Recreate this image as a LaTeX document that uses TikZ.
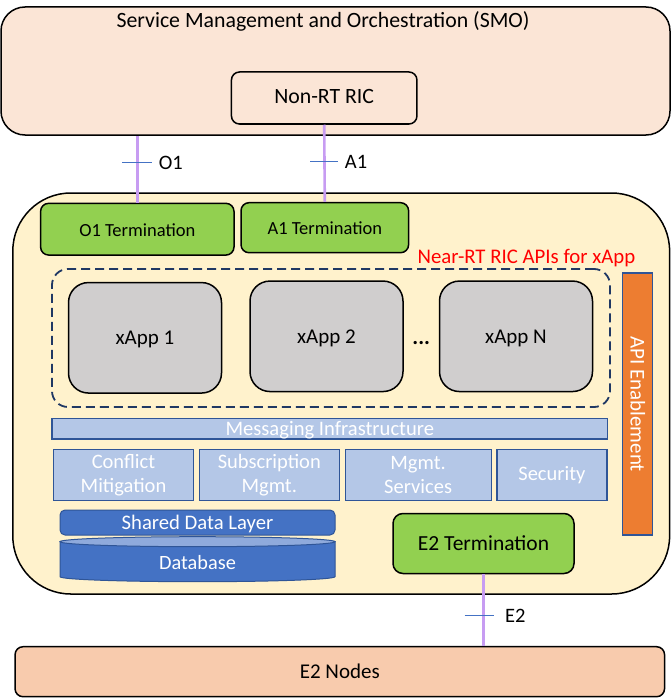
\documentclass[tikz,border=0pt]{standalone}
\usepackage{fontspec}
\setmainfont{Carlito}
\usepackage{tikz}
\usetikzlibrary{positioning, calc}
\definecolor{smobg}{HTML}{FBE5D6}
\definecolor{nodesbg}{HTML}{F8CBAD}
\definecolor{ricbg}{HTML}{FFF2CC}
\definecolor{termgreen}{HTML}{92D050}
\definecolor{xappgray}{HTML}{D0CECE}
\definecolor{groupnavy}{HTML}{1F3864}
\definecolor{apiorange}{HTML}{ED7D31}
\definecolor{edgeblue}{HTML}{2F5597}
\definecolor{svcblue}{HTML}{B4C7E7}
\definecolor{sdlblue}{HTML}{4472C4}
\definecolor{dbtop}{HTML}{8FAADC}
\definecolor{ifacepurple}{HTML}{C79CF2}
\definecolor{apired}{HTML}{FF0000}
\tikzset{
  txt/.style={
    font=\fontsize{21}{25}\selectfont,
    inner sep=0pt,
    text height=14pt,
    text depth=0pt
  },
  smo box/.style={
    draw=black, line width=1.5pt, fill=smobg,
    rounded corners=24pt, inner sep=0pt
  },
  ric box/.style={
    draw=black, line width=1.5pt, fill=ricbg,
    rounded corners=58pt, inner sep=0pt
  },
  term box/.style={
    txt, draw=black, line width=1.5pt,
    rounded corners=8pt, align=center
  },
  group box/.style={
    draw=groupnavy, line width=1.8pt, dash pattern=on 9pt off 5pt,
    rounded corners=16pt, inner sep=0pt
  },
  xapp box/.style={
    txt, draw=black, line width=1.5pt, fill=xappgray,
    rounded corners=20pt,
    minimum width=153pt, minimum height=110.5pt
  },
  api bar/.style={
    txt, draw=edgeblue, line width=1.2pt, fill=apiorange,
    text=white, rotate=-90
  },
  svc box/.style={
    draw=edgeblue, line width=1.2pt, fill=svcblue,
    text=white, align=center, inner sep=0pt,
    font=\fontsize{20.5}{24.5}\selectfont,
    minimum height=51.5pt
  },
  sdl box/.style={
    txt, draw=edgeblue, line width=1pt, fill=sdlblue,
    text=white, rounded corners=5pt
  },
  db body/.style={draw=edgeblue, line width=1pt, fill=sdlblue},
  db lid/.style={draw=edgeblue, line width=1pt, fill=dbtop},
  iface/.style={draw=ifacepurple, line width=2.6pt},
  iface tick/.style={draw=sdlblue, line width=1pt},
  iface label/.style={txt, font=\fontsize{20.5}{24.5}\selectfont}
}
\begin{document}
\begin{tikzpicture}[x=1pt, y=1pt]
  \useasboundingbox (0,0) rectangle (671,-698);

  % SMO with Non-RT RIC
  \node[smo box, minimum width=669pt, minimum height=128pt] (smo) at (335.5,-71) {};
  \node[txt, anchor=base, font=\fontsize{21.8}{26}\selectfont] (smotitle) at (323,-28) {Service Management and Orchestration (SMO)};
  \node[term box, fill=smobg, font=\fontsize{21.8}{26}\selectfont, minimum width=185.5pt, minimum height=52pt, text depth=2pt] (nonrt) at (324.2,-98) {Non-RT RIC};

  % Near-RT RIC
  \node[ric box, minimum width=656.8pt, minimum height=401pt] (nearrt) at (341.2,-393.5) {};
  \node[term box, fill=termgreen, font=\fontsize{18.5}{22}\selectfont, minimum width=193.4pt, minimum height=51.7pt] (o1term) at (137.3,-229.2) {O1 Termination};
  \node[term box, fill=termgreen, font=\fontsize{18.5}{22}\selectfont, minimum width=167.6pt, minimum height=50pt] (a1term) at (324.8,-227.7) {A1 Termination};
  \node[txt, text=apired, font=\fontsize{20.8}{25}\selectfont, anchor=east] (apilbl) at (635.4,-256) {Near-RT RIC APIs for xApp};

  \node[group box, minimum width=558pt, minimum height=138pt] (xapps) at (331,-338) {};
  \node[xapp box] (xapp1) at (145,-337.8) {xApp 1};
  \node[xapp box, right=27pt of xapp1.north east, anchor=north west, yshift=1.5pt] (xapp2) {xApp 2};
  \node[xapp box, right=35pt of xapp2] (xappn) {xApp N};
  \node[txt, font=\fontsize{22}{26}\bfseries] (dots) at ($(xapp2.east)!0.5!(xappn.west)+(0,-1)$) {...};

  \node[api bar, minimum width=262pt, minimum height=30pt] (api) at (637.5,-404) {API Enablement};

  \node[txt, draw=edgeblue, line width=1.2pt, fill=svcblue, text=white, font=\fontsize{20.6}{25}\selectfont, minimum width=555.6pt, minimum height=20.7pt] (msg) at (329.8,-428.7) {Messaging Infrastructure};

  \node[svc box, minimum width=140pt] (conflict) at (123.5,-475) {Conflict\\Mitigation};
  \node[svc box, minimum width=140pt, right=4.6pt of conflict] (subscr) {Subscription\\Mgmt.};
  \node[svc box, minimum width=146pt, right=4.6pt of subscr] (mgmt) {Mgmt.\\Services};
  \node[svc box, minimum width=110pt, right=4.6pt of mgmt] (security) {Security};

  \node[sdl box, font=\fontsize{20.7}{25}\selectfont, minimum width=275pt, minimum height=25pt] (sdl) at (197.5,-522.5) {Shared Data Layer};
  \coordinate (dbtopc) at (197.5,-541.7);
  \coordinate (dbbotc) at (197.5,-576.7);
  \filldraw[db body] ([xshift=-137.5pt]dbtopc) -- ([xshift=-137.5pt]dbbotc)
    arc[start angle=180, end angle=360, x radius=137.5, y radius=5] -- ([xshift=137.5pt]dbtopc) -- cycle;
  \filldraw[db lid] (dbtopc) ellipse[x radius=137.5, y radius=5];
  \node[txt, text=white, font=\fontsize{20.3}{25}\selectfont] (db) at (197.5,-562.5) {Database};

  \node[term box, fill=termgreen, font=\fontsize{21.5}{26}\selectfont, minimum width=181pt, minimum height=60pt, rounded corners=10pt] (e2term) at (483.5,-543.5) {E2 Termination};

  % E2 Nodes
  \node[term box, fill=nodesbg, minimum width=649.5pt, minimum height=50pt] (e2nodes) at (339.8,-671.7) {E2 Nodes};

  % interfaces
  \draw[iface] (o1term.north |- smo.south) -- coordinate[pos=0.4] (o1mid) (o1term.north);
  \draw[iface tick] ([xshift=-15pt]o1mid) -- ([xshift=15pt]o1mid) node[iface label, right=6pt] (o1lbl) {O1};
  \draw[iface] (nonrt.south) -- coordinate[pos=0.48] (a1mid) (a1term.north);
  \draw[iface tick] ([xshift=-14pt]a1mid) -- ([xshift=14pt]a1mid) node[iface label, right=6pt] (a1lbl) {A1};
  \draw[iface] (e2term.south) -- coordinate[pos=0.58] (e2mid) (e2term.south |- e2nodes.north);
  \draw[iface tick] ([xshift=-19pt]e2mid) -- ([xshift=10pt]e2mid) node[iface label, right=11pt] (e2lbl) {E2};
\end{tikzpicture}
\end{document}
